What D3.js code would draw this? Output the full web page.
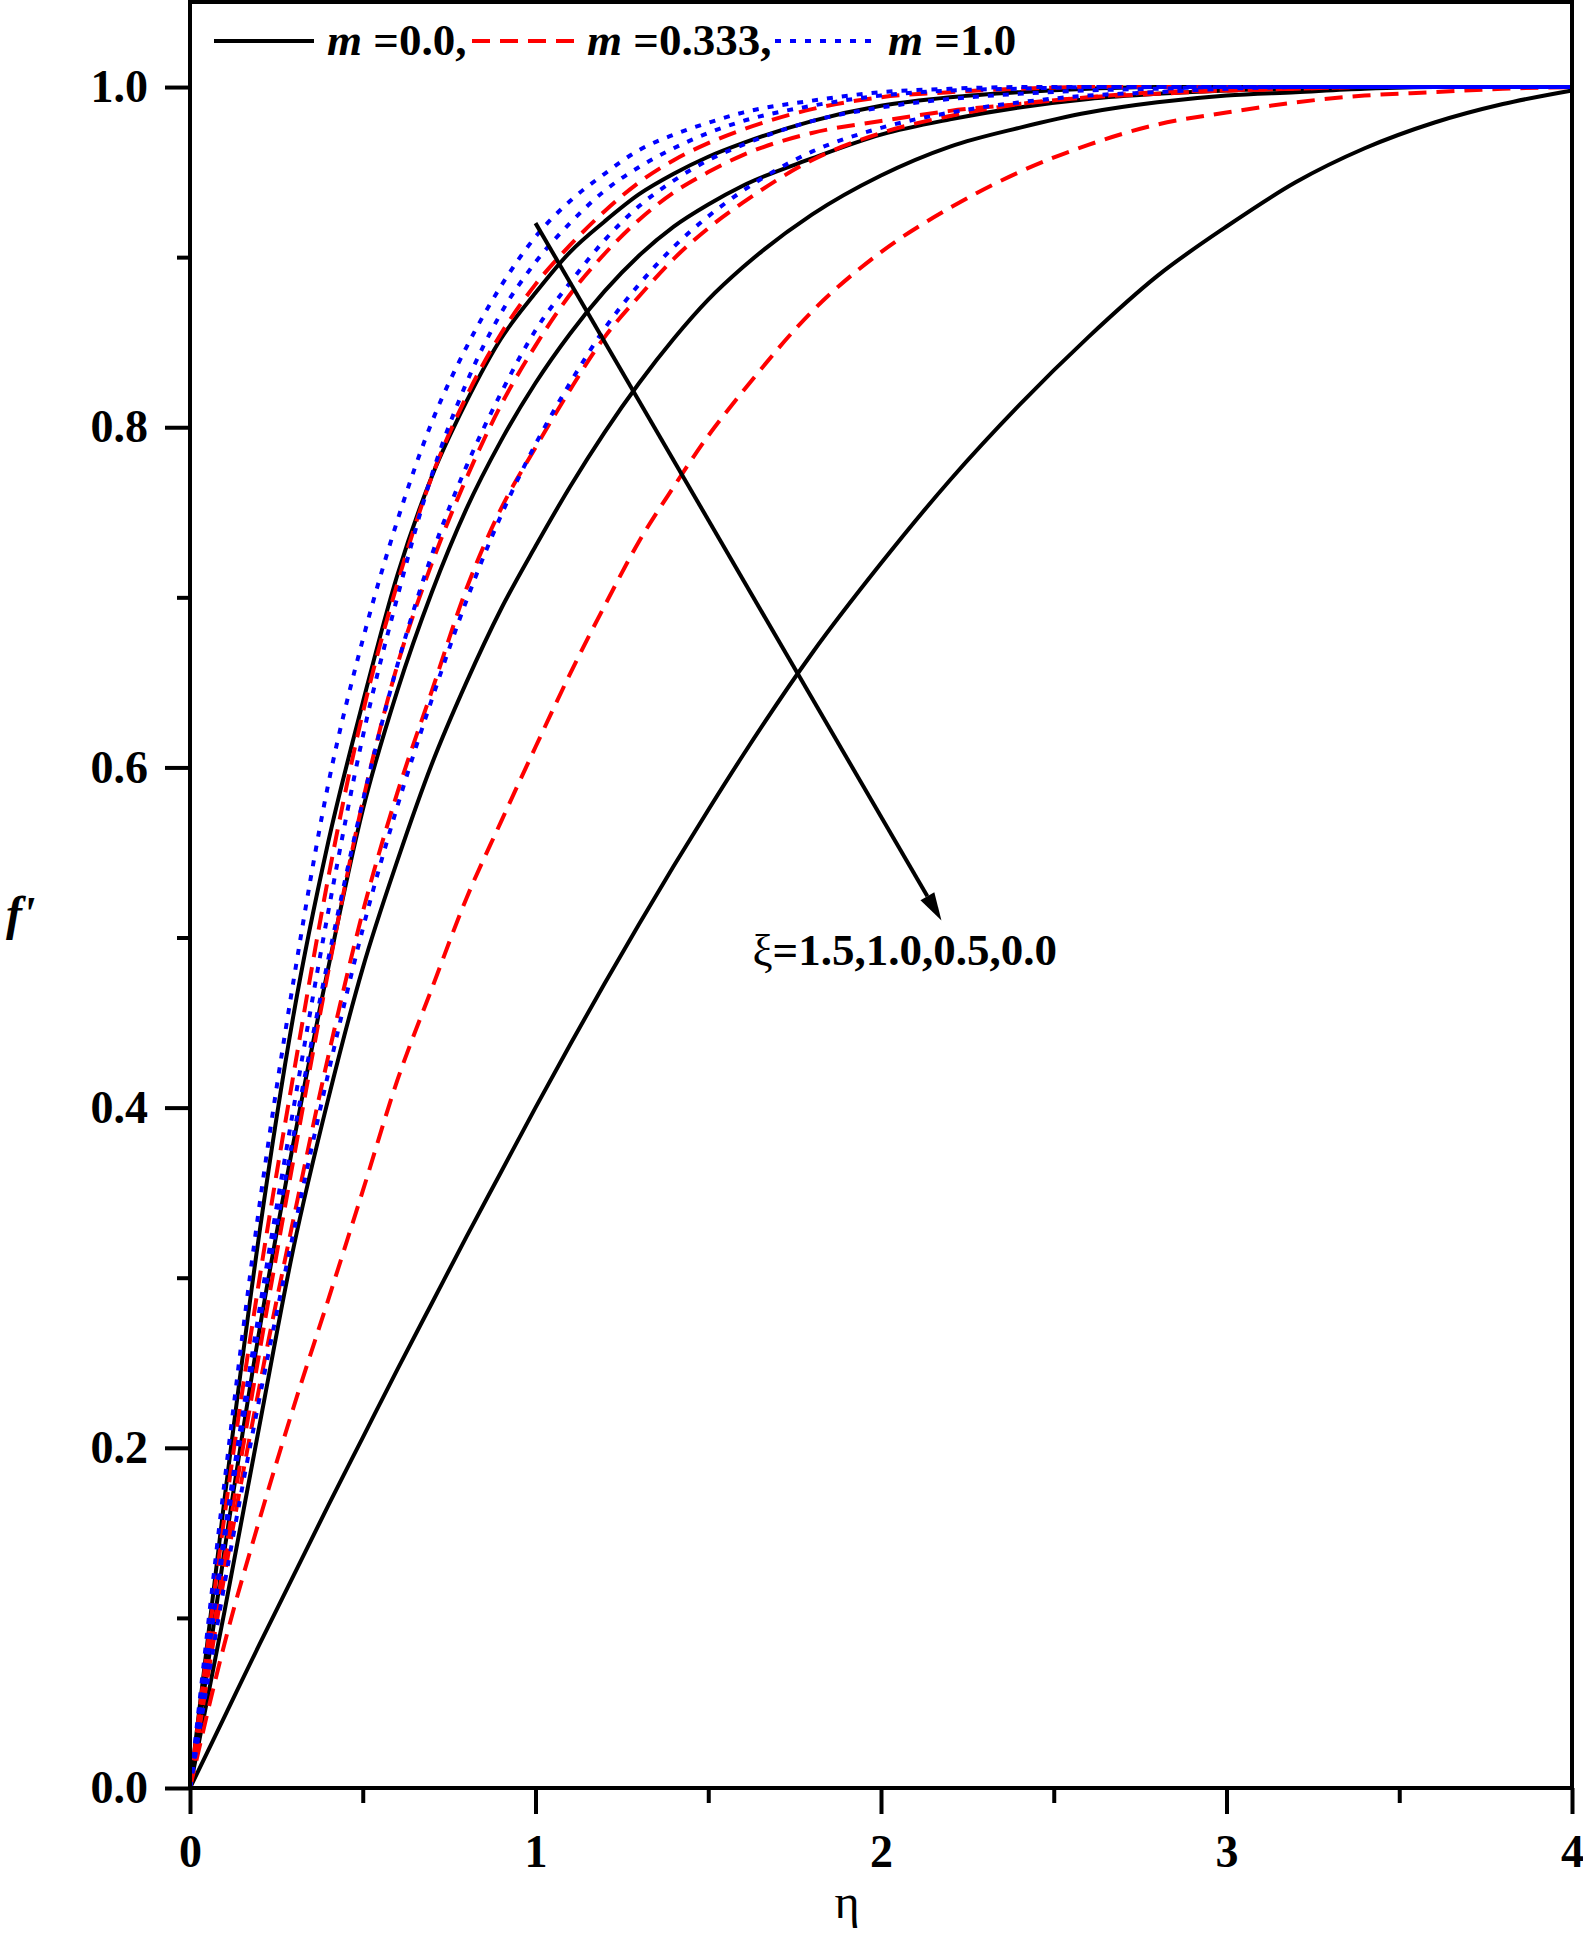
<!DOCTYPE html>
<html><head><meta charset="utf-8">
<script src="https://cdn.jsdelivr.net/npm/d3@7"></script>
<style>
body{margin:0;background:#fff;}
svg text{font-family:"Liberation Serif","Times New Roman",serif;}
</style></head><body>
<svg id="chart" width="1583" height="1941"></svg>
<script>
// ---- data ----
const eta = [0,0.1,0.2,0.3,0.4,0.5,0.6,0.7,0.8,0.9,1.0,1.1,1.2,1.3,1.4,1.5,1.6,1.8,2.0,2.2,2.4,2.6,2.8,3.0,3.2,3.4,3.6,3.8,4.0];

// m = 0.0 (black solid), xi = 1.5, 1.0, 0.5, 0.0
const m0Xi15 = [0,0.170,0.325,0.455,0.556,0.638,0.713,0.771,0.815,0.852,0.879,0.903,0.921,0.937,0.949,0.959,0.967,0.980,0.989,0.994,0.997,0.999,1.0,1.0,1.0,1.0,1.0,1.0,1.0];
const m0Xi10 = [0,0.140,0.268,0.380,0.482,0.575,0.645,0.703,0.752,0.792,0.826,0.855,0.880,0.901,0.918,0.931,0.942,0.958,0.972,0.981,0.988,0.993,0.996,0.998,0.999,1.0,1.0,1.0,1.0];
const m0Xi05 = [0,0.104,0.212,0.318,0.405,0.482,0.545,0.602,0.650,0.693,0.730,0.765,0.797,0.826,0.852,0.875,0.894,0.925,0.948,0.965,0.976,0.985,0.991,0.995,0.997,0.999,1.0,1.0,1.0];
const m0Xi00 = [0,0.042,0.084,0.125,0.166,0.206,0.246,0.285,0.324,0.362,0.400,0.437,0.473,0.508,0.542,0.575,0.607,0.667,0.720,0.769,0.813,0.853,0.889,0.918,0.944,0.964,0.979,0.990,0.998];
const m0Xi00End = [0.998,0.983];

// m = 0.333 (red dashed)
const m333Xi15 = [0,0.160,0.298,0.420,0.535,0.632,0.708,0.771,0.818,0.855,0.884,0.907,0.927,0.944,0.957,0.967,0.975,0.987,0.994,0.997,0.999,1.0,1.0,1.0,1.0,1.0,1.0,1.0,1.0];
const m333Xi10 = [0,0.135,0.255,0.370,0.480,0.580,0.660,0.720,0.770,0.813,0.848,0.878,0.902,0.922,0.938,0.950,0.960,0.973,0.980,0.986,0.990,0.994,0.996,0.998,0.999,1.0,1.0,1.0,1.0];
const m333Xi05 = [0,0.125,0.235,0.335,0.430,0.515,0.585,0.645,0.705,0.752,0.788,0.822,0.853,0.877,0.899,0.917,0.932,0.957,0.973,0.983,0.990,0.994,0.997,0.998,0.999,1.0,1.0,1.0,1.0];
const m333Xi00 = [0,0.085,0.157,0.224,0.287,0.351,0.416,0.470,0.523,0.568,0.612,0.655,0.695,0.733,0.765,0.795,0.821,0.868,0.903,0.929,0.950,0.966,0.978,0.985,0.991,0.995,0.997,0.999,1.0];

// m = 1.0 (blue dotted)
const m1Xi15 = [0,0.180,0.341,0.475,0.590,0.675,0.745,0.803,0.847,0.883,0.912,0.933,0.949,0.963,0.972,0.979,0.985,0.992,0.997,0.999,1.0,1.0,1.0,1.0,1.0,1.0,1.0,1.0,1.0];
const m1Xi10 = [0,0.150,0.280,0.400,0.515,0.618,0.700,0.772,0.826,0.867,0.897,0.920,0.939,0.953,0.964,0.973,0.980,0.989,0.995,0.998,0.999,1.0,1.0,1.0,1.0,1.0,1.0,1.0,1.0];
const m1Xi05 = [0,0.145,0.272,0.384,0.487,0.580,0.660,0.725,0.777,0.820,0.857,0.885,0.910,0.930,0.945,0.957,0.966,0.980,0.988,0.993,0.996,0.998,0.999,1.0,1.0,1.0,1.0,1.0,1.0];
const m1Xi00 = [0,0.120,0.228,0.327,0.420,0.505,0.577,0.640,0.698,0.748,0.790,0.826,0.858,0.884,0.906,0.924,0.939,0.962,0.976,0.985,0.991,0.995,0.997,0.999,1.0,1.0,1.0,1.0,1.0];

const xTicks = [0,1,2,3,4];
const xMinorTicks = [0.5,1.5,2.5,3.5];
const yTicks = [0,0.2,0.4,0.6,0.8,1.0];
const yMinorTicks = [0.1,0.3,0.5,0.7,0.9];
const legendLabels = ["0.0,","0.333,","1.0"];
const xiLabel = "=1.5,1.0,0.5,0.0";
const arrowFrom = [1.0,0.92];
const arrowTo = [2.175,0.51];
const xiLabelPos = [1.628,0.484];

// ---- chart ----
const svg = d3.select("#chart");
svg.append("rect").attr("width",1583).attr("height",1941).attr("fill","#fff");

const x = d3.scaleLinear().domain([0,4]).range([190,1572]);
const y = d3.scaleLinear().domain([0,1.05]).range([1788,2]);

const styles = {
  black:{color:"#000000",dash:null},
  red:{color:"#ff0000",dash:"18,10"},
  blue:{color:"#0000ff",dash:"6,9"}
};
const series = [
  {v:m0Xi15,s:"black"},{v:m0Xi10,s:"black"},{v:m0Xi05,s:"black"},{v:m0Xi00,s:"black"},
  {v:m333Xi15,s:"red"},{v:m333Xi10,s:"red"},{v:m333Xi05,s:"red"},{v:m333Xi00,s:"red"},
  {v:m1Xi15,s:"blue"},{v:m1Xi10,s:"blue"},{v:m1Xi05,s:"blue"},{v:m1Xi00,s:"blue"}
];

const line = d3.line().x(d=>x(d[0])).y(d=>y(d[1])).curve(d3.curveMonotoneX);
const gLines = svg.append("g");
series.forEach(sr=>{
  const st = styles[sr.s];
  gLines.append("path")
    .datum(eta.map((e,i)=>[e,sr.v[i]]))
    .attr("d",line)
    .attr("fill","none")
    .attr("stroke",st.color)
    .attr("stroke-width",4)
    .attr("stroke-dasharray",st.dash)
    .attr("stroke-linejoin","round");
});
// small drop at the end of the m=0, xi=0 curve
gLines.append("path")
  .datum(m0Xi00End.map(v=>[4,v]))
  .attr("d",d3.line().x(d=>x(d[0])).y(d=>y(d[1])))
  .attr("stroke","#000").attr("stroke-width",4).attr("fill","none");

// frame
svg.append("rect").attr("x",x(0)).attr("y",y(1.05)).attr("width",x(4)-x(0)).attr("height",y(0)-y(1.05))
  .attr("fill","none").attr("stroke","#000").attr("stroke-width",4);

function styleAxis(g){
  g.select(".domain").remove();
  g.selectAll(".tick line").attr("stroke","#000").attr("stroke-width",4);
  g.selectAll(".tick text").attr("fill","#000").attr("font-size",46).attr("font-weight","bold")
    .attr("font-family","'Liberation Serif','Times New Roman',serif");
}
svg.append("g").attr("transform",`translate(0,${y(0)})`)
  .call(d3.axisBottom(x).tickValues(xTicks).tickSize(26).tickPadding(20).tickFormat(d3.format("d")))
  .call(styleAxis);
svg.append("g").attr("transform",`translate(0,${y(0)})`)
  .call(d3.axisBottom(x).tickValues(xMinorTicks).tickSize(15).tickFormat(""))
  .call(styleAxis);
svg.append("g").attr("transform",`translate(${x(0)},0)`)
  .call(d3.axisLeft(y).tickValues(yTicks).tickSize(25).tickPadding(17).tickFormat(d3.format(".1f")))
  .call(styleAxis);
svg.append("g").attr("transform",`translate(${x(0)},0)`)
  .call(d3.axisLeft(y).tickValues(yMinorTicks).tickSize(13).tickFormat(""))
  .call(styleAxis);

// axis titles
svg.append("text").attr("x",847).attr("y",1918).attr("text-anchor","middle")
  .attr("font-size",48).text("η");
svg.append("text").attr("x",6).attr("y",930).attr("font-size",48)
  .attr("font-weight","bold").attr("font-style","italic").text("f'");

// legend
const legendPos = [
  {x1:214,x2:314,tx:327,s:"black"},
  {x1:472,x2:575,tx:587,s:"red"},
  {x1:775,x2:874,tx:888,s:"blue"}
];
const gLeg = svg.append("g");
legendPos.forEach((p,i)=>{
  const st = styles[p.s];
  gLeg.append("line").attr("x1",p.x1).attr("x2",p.x2).attr("y1",41).attr("y2",41)
    .attr("stroke",st.color).attr("stroke-width",4).attr("stroke-dasharray",st.dash);
  const t = gLeg.append("text").attr("x",p.tx).attr("y",55).attr("font-size",45).attr("font-weight","bold");
  t.append("tspan").attr("font-style","italic").text("m");
  t.append("tspan").text(" =" + legendLabels[i]);
});

// arrow annotation
const ax1=x(arrowFrom[0]), ay1=y(arrowFrom[1]), ax2=x(arrowTo[0]), ay2=y(arrowTo[1]);
const ang = Math.atan2(ay2-ay1, ax2-ax1);
const hl = 28, hw = 8;
const bx = ax2 - hl*Math.cos(ang), by = ay2 - hl*Math.sin(ang);
svg.append("line").attr("x1",ax1).attr("y1",ay1).attr("x2",bx).attr("y2",by)
  .attr("stroke","#000").attr("stroke-width",4);
svg.append("polygon").attr("points",[
  [ax2,ay2],
  [bx + hw*Math.sin(ang), by - hw*Math.cos(ang)],
  [bx - hw*Math.sin(ang), by + hw*Math.cos(ang)]
].map(p=>p.join(",")).join(" ")).attr("fill","#000");

const xt = svg.append("text").attr("x",x(xiLabelPos[0])).attr("y",y(xiLabelPos[1])).attr("font-size",45);
xt.append("tspan").text("ξ");
xt.append("tspan").attr("font-weight","bold").text(xiLabel);
</script>
</body></html>
